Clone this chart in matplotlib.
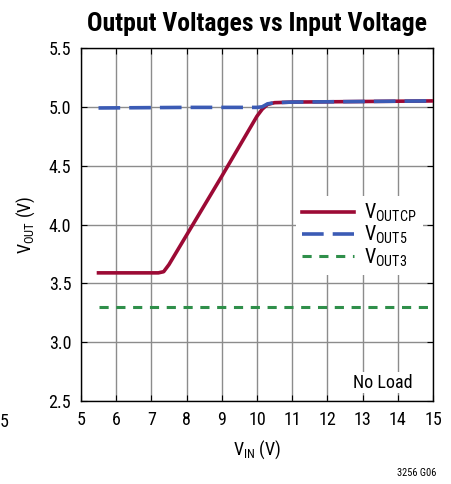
import numpy as np
import matplotlib
matplotlib.use("Agg")
from matplotlib import pyplot as plt

plt.rcParams['font.family'] = ['Roboto Condensed', 'DejaVu Sans']
plt.rcParams['mathtext.fontset'] = 'custom'
plt.rcParams['mathtext.rm'] = 'Roboto Condensed'

# data
vin_cp = [5.5, 6.5, 7.2, 7.35, 7.5, 8.0, 9.0, 10.0, 10.15, 10.3, 10.5, 11.0, 13.0, 15.0]
vout_cp = [3.59, 3.59, 3.59, 3.60, 3.66, 3.91, 4.41, 4.92, 4.98, 5.02, 5.035, 5.04, 5.045, 5.05]
vin_5 = [5.5, 8.0, 10.0, 10.15, 10.3, 10.5, 11.0, 13.0, 15.0]
vout_5 = [4.99, 4.995, 4.995, 5.0, 5.025, 5.035, 5.04, 5.045, 5.05]
vin_3 = [5.5, 15.0]
vout_3 = [3.3, 3.3]

x_ticks = [5, 6, 7, 8, 9, 10, 11, 12, 13, 14, 15]
y_ticks = [2.5, 3.0, 3.5, 4.0, 4.5, 5.0, 5.5]

fig = plt.figure(figsize=(4.52, 4.84), dpi=100)
ax = fig.add_axes([0.179, 0.171, 0.779, 0.73])

ax.plot(vin_cp, vout_cp, color='#9c0a35', lw=2.6, label=r'V$_{\mathrm{OUTCP}}$', zorder=3)
ax.plot(vin_5, vout_5, color='#3b5bb5', lw=2.6, dashes=(6, 2.5), label=r'V$_{\mathrm{OUT5}}$', zorder=4)
ax.plot(vin_3, vout_3, color='#2f8f4a', lw=2.2, dashes=(3, 2.5), label=r'V$_{\mathrm{OUT3}}$', zorder=3)

ax.set_xlim(5, 15)
ax.set_ylim(2.5, 5.5)
ax.set_xticks(x_ticks)
ax.set_yticks(y_ticks)
ax.set_yticklabels(['%.1f' % v for v in y_ticks])
ax.grid(True, color='#8c8c8c', lw=1.0)
ax.tick_params(direction='in', length=4, labelsize=13, top=True, right=True, pad=7)
for s in ax.spines.values():
    s.set_linewidth(1.0)

ax.set_xlabel(r'V$_{\mathrm{IN}}$ (V)', fontsize=13, labelpad=7)
ax.set_ylabel(r'V$_{\mathrm{OUT}}$ (V)', fontsize=13, labelpad=8)
ax.set_title('Output Voltages vs Input Voltage', fontsize=18.5, fontweight='bold', pad=12)

leg = ax.legend(loc='upper right', bbox_to_anchor=(1.0, 0.61), frameon=True, fontsize=14.5,
                handlelength=2.6, labelspacing=0.0, borderpad=0.3, handletextpad=0.5)
leg.get_frame().set_facecolor('white')
leg.get_frame().set_edgecolor('none')
leg.get_frame().set_alpha(1.0)

ax.text(14.43, 2.58, 'No Load', ha='right', va='bottom', fontsize=13,
        bbox=dict(facecolor='white', edgecolor='none', pad=1))

fig.text(0.0, 0.128, '5', fontsize=13, ha='left', va='center')
fig.text(0.965, 0.012, '3256 G06', fontsize=7.5, ha='right', va='bottom')

plt.savefig('out.png', dpi=100)
